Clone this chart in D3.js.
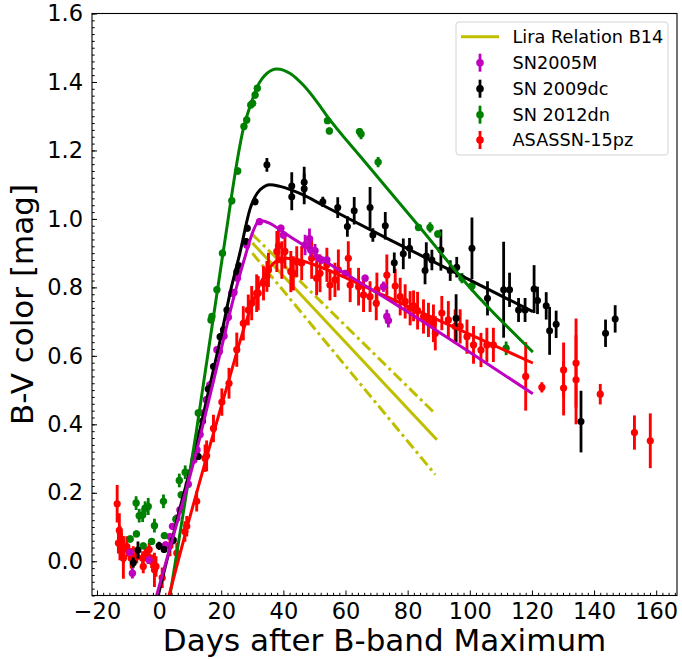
<!DOCTYPE html>
<html><head><meta charset="utf-8">
<script src="https://cdn.jsdelivr.net/npm/d3@7"></script>
<style>
html,body{margin:0;padding:0;background:#fff;}
svg{display:block;font-family:"DejaVu Sans",sans-serif;}
</style></head>
<body>
<svg id="chart" width="682" height="659"></svg>
<script>
// ---------- DATA ----------
const xTicks = [-20, 0, 20, 40, 60, 80, 100, 120, 140, 160];
const yTicks = [0.0, 0.2, 0.4, 0.6, 0.8, 1.0, 1.2, 1.4, 1.6];
const legendLabels = ["Lira Relation B14", "SN2005M", "SN 2009dc", "SN 2012dn", "ASASSN-15pz"];

// SN2005M : [day, B-V, err]
const sn2005M = [
 [-9.4,0.026,0.01],[-8.6,-0.035,0.015],[-3.2,0.004,0.01],[2.1,0.048,0.01],[3.5,0.072,0.01],
 [4.3,0.102,0.01],[5.7,0.126,0.01],[6.7,0.15,0.01],[9.4,0.225,0.01],[11.2,0.296,0.01],
 [12.2,0.325,0.01],[13.2,0.37,0.01],[14.2,0.433,0.01],[15.2,0.472,0.01],[16.3,0.515,0.01],
 [18.6,0.618,0.01],[19.4,0.613,0.01],[20.9,0.658,0.01],[22.3,0.713,0.01],[23.4,0.783,0.01],
 [24.1,0.785,0.01],[25.2,0.827,0.01],[28.2,0.924,0.01],[32.3,0.992,0.01],[39.2,0.973,0.01],
 [40.0,0.953,0.01],[47.0,0.924,0.03],[48.4,0.942,0.03],[48.8,0.909,0.02],[50.2,0.907,0.02],
 [51.3,0.885,0.01],[52.4,0.88,0.01],[54.0,0.88,0.01],[59.9,0.841,0.01],[66.3,0.827,0.01],
 [72.2,0.802,0.015],[73.3,0.715,0.02],[73.8,0.703,0.02]
];
// SN 2009dc
const sn2009dc = [
 [-8.3,-0.004,0.015],[-6.8,0.033,0.025],[0.0,0.045,0.012],[1.6,0.034,0.01],[4.6,0.062,0.012],
 [12.6,0.306,0.01],[14.0,0.41,0.01],[15.8,0.503,0.01],[17.5,0.569,0.01],[19.6,0.656,0.01],
 [20.7,0.676,0.01],[21.8,0.734,0.01],[25.0,0.846,0.01],[25.7,0.863,0.01],[28.0,0.934,0.01],
 [28.4,0.973,0.01],[30.9,1.05,0.01],[34.7,1.158,0.02],[42.7,1.096,0.04],[42.7,1.065,0.04],
 [46.7,1.107,0.045],[46.7,1.088,0.045],[52.7,1.05,0.015],[57.5,1.033,0.03],[60.6,0.978,0.03],
 [62.8,1.024,0.04],[67.9,1.033,0.06],[68.8,0.953,0.02],[72.8,0.98,0.04],[75.7,0.872,0.03],
 [78.6,0.898,0.045],[80.6,0.914,0.03],[85.6,0.849,0.04],[86.0,0.892,0.04],[87.8,0.88,0.03],
 [90.7,0.909,0.06],[93.7,0.849,0.03],[95.8,0.859,0.03],[95.6,0.71,0.07],[100.7,0.914,0.09],
 [105.7,0.768,0.05],[110.9,0.793,0.14],[112.8,0.793,0.05],[115.7,0.734,0.035],[117.8,0.734,0.035],
 [120.7,0.795,0.07],[121.8,0.762,0.04],[124.6,0.746,0.04],[125.7,0.673,0.07],[127.8,0.692,0.04],
 [135.8,0.408,0.09],[143.7,0.666,0.04],[146.8,0.708,0.04]
];
// SN 2012dn
const sn2012dn = [
 [-9.3,0.065,0.01],[-7.3,0.08,0.01],[-7.4,0.17,0.02],[-6.4,0.133,0.02],[-5.3,0.135,0.02],
 [-4.5,0.155,0.02],[-3.5,0.16,0.025],[-5.1,0.045,0.01],[-2.4,0.058,0.01],[-1.5,0.104,0.02],
 [1.4,0.175,0.02],[1.7,0.075,0.01],[5.4,0.123,0.01],[6.5,0.236,0.02],[7.1,0.194,0.01],
 [8.4,0.26,0.02],[12.6,0.433,0.01],[16.7,0.705,0.01],[17.0,0.715,0.01],[18.6,0.793,0.01],
 [20.4,0.9,0.01],[23.4,1.053,0.01],[25.3,1.14,0.01],[27.3,1.27,0.01],[28.2,1.289,0.01],
 [29.5,1.333,0.01],[30.1,1.338,0.01],[30.9,1.362,0.01],[31.6,1.382,0.01],[54.2,1.287,0.01],
 [54.8,1.257,0.01],[64.5,1.255,0.01],[65.0,1.248,0.015],[70.5,1.166,0.015],[83.5,0.975,0.01],
 [87.2,0.975,0.015],[89.7,0.956,0.01],[97.5,0.827,0.015],[100.7,0.804,0.015],[111.7,0.622,0.02]
];
// ASASSN-15pz
const asassn15pz = [
 [-13.5,0.168,0.055],[-12.8,0.09,0.05],[-12.6,0.053,0.05],[-12.1,0.045,0.04],[-11.5,0.034,0.04],
 [-11.5,0.009,0.06],[-13.1,0.053,0.03],[-10.4,0.043,0.03],[-9.0,0.009,0.03],[-8.3,0.014,0.03],
 [-7.2,0.014,0.02],[-5.3,0.009,0.02],[-5.1,-0.015,0.02],[-4.5,0.019,0.02],[-3.5,0.012,0.02],
 [-3.2,0.034,0.02],[-2.4,0.0,0.02],[-1.5,-0.025,0.05],[-1.0,-0.015,0.03],[1.0,-0.048,0.03],
 [3.5,0.045,0.03],[5.7,0.024,0.03],[8.3,0.087,0.03],[8.9,0.102,0.03],[12.1,0.175,0.03],
 [14.8,0.301,0.04],[15.3,0.308,0.045],[17.5,0.388,0.04],[20.2,0.465,0.04],[22.5,0.52,0.045],
 [25.0,0.618,0.05],[27.1,0.695,0.05],[28.7,0.734,0.045],[29.8,0.754,0.05],[31.4,0.783,0.055],
 [31.9,0.783,0.05],[33.6,0.812,0.05],[34.7,0.832,0.045],[35.2,0.851,0.05],[37.9,0.905,0.06],
 [38.4,0.921,0.05],[39.5,0.88,0.055],[40.5,0.905,0.05],[42.4,0.846,0.06],[43.2,0.841,0.05],
 [44.3,0.875,0.045],[45.9,0.871,0.05],[49.1,0.885,0.06],[50.7,0.827,0.05],[51.8,0.841,0.055],
 [54.0,0.866,0.05],[55.0,0.807,0.045],[56.6,0.822,0.05],[57.7,0.851,0.06],[60.9,0.885,0.05],
 [61.5,0.807,0.05],[64.2,0.802,0.055],[65.8,0.778,0.05],[67.9,0.773,0.045],[69.9,0.754,0.05],
 [70.1,0.793,0.05],[73.3,0.836,0.06],[76.0,0.804,0.05],[77.6,0.773,0.055],[79.2,0.759,0.05],
 [80.8,0.739,0.05],[81.9,0.746,0.045],[83.2,0.732,0.055],[85.1,0.715,0.05],[86.7,0.705,0.05],
 [88.3,0.695,0.055],[88.9,0.666,0.05],[91.0,0.725,0.05],[93.1,0.705,0.055],[95.3,0.686,0.05],
 [96.9,0.686,0.05],[99.1,0.656,0.05],[101.2,0.632,0.055],[103.6,0.617,0.05],[105.5,0.632,0.05],
 [107.6,0.632,0.05],[118.0,0.54,0.1],[123.2,0.508,0.015],[130.2,0.559,0.08],[130.2,0.506,0.08],
 [134.2,0.579,0.13],[134.2,0.53,0.13],[142.0,0.488,0.03],[153.0,0.376,0.05],[158.1,0.352,0.08]
];

// Fitted curves (knots)
const fit2005M = [[-0.8,-0.1],[6,0.12],[12,0.32],[16,0.47],[20,0.62],[24,0.77],[28,0.9],[30.2,0.963],
 [32.3,0.995],[35.7,0.987],[38.9,0.968],[42.2,0.948],[46.4,0.924],[50.7,0.895],[56.1,0.861],
 [61.5,0.832],[66.9,0.802],[72.2,0.773],[90,0.67],[120.3,0.489]];
const fit2009dc = [[-0.3,-0.1],[6,0.13],[12,0.34],[16,0.5],[20,0.66],[23,0.79],[26,0.9],[29.3,1.03],
 [32.5,1.085],[35.7,1.1],[38.9,1.095],[46.4,1.07],[52.7,1.04],[74.3,0.939],[120.3,0.729]];
const fit2012dn = [[3.5,-0.1],[12,0.38],[20.4,0.89],[27.3,1.27],[29.5,1.335],[31.6,1.386],[34.7,1.425],
 [37.9,1.438],[42.2,1.425],[46.4,1.391],[50.8,1.342],[54.2,1.299],[65,1.18],[83.5,0.98],[100,0.8],[120.3,0.611]];
const fit15pz = [[3.2,-0.1],[9,0.1],[15,0.295],[22,0.515],[28,0.7],[32,0.8],[35,0.85],[38,0.878],
 [41,0.885],[45,0.88],[50,0.866],[61.5,0.822],[72,0.778],[120.3,0.579]];

// Lira relation lines
const liraMid = [[30,0.93],[89.4,0.355]];
const liraUpper = [[30,0.955],[88.2,0.437]];
const liraLower = [[30,0.90],[88.9,0.253]];

// ---------- DRAW ----------
const svg = d3.select("#chart");
const L = 92, R = 677, T = 13.5, B = 595.5;
const x = d3.scaleLinear().domain([-21.6, 166.7]).range([L, R]);
const y = d3.scaleLinear().domain([-0.1, 1.6]).range([B, T]);

const COL = {m:"#bf00bf", k:"#000000", g:"#008000", r:"#ff0000", y:"#bfbf00"};
const FONT = "DejaVu Sans";

svg.append("defs").append("clipPath").attr("id","clip")
  .append("rect").attr("x",L).attr("y",T).attr("width",R-L).attr("height",B-T);
const plot = svg.append("g").attr("clip-path","url(#clip)");

const line = d3.line().x(d=>x(d[0])).y(d=>y(d[1]));
const smooth = d3.line().x(d=>x(d[0])).y(d=>y(d[1])).curve(d3.curveMonotoneX);

// Lira lines
plot.append("path").datum(liraMid).attr("d",line).attr("fill","none")
  .attr("stroke",COL.y).attr("stroke-width",3);
[liraUpper, liraLower].forEach(dd=>{
  plot.append("path").datum(dd).attr("d",line).attr("fill","none")
    .attr("stroke",COL.y).attr("stroke-width",3).attr("stroke-dasharray","11,4,3,4");
});

function errSeries(data, color, r, w){
  const g = plot.append("g");
  g.selectAll("line").data(data).join("line")
    .attr("x1",d=>x(d[0])).attr("x2",d=>x(d[0]))
    .attr("y1",d=>y(d[1]-d[2])).attr("y2",d=>y(d[1]+d[2]))
    .attr("stroke",color).attr("stroke-width",w);
  g.selectAll("circle").data(data).join("circle")
    .attr("cx",d=>x(d[0])).attr("cy",d=>y(d[1])).attr("r",r).attr("fill",color);
}
errSeries(asassn15pz, COL.r, 3.6, 2.9);
errSeries(sn2005M, COL.m, 3.7, 2.8);
errSeries(sn2009dc, COL.k, 3.5, 2.8);
errSeries(sn2012dn, COL.g, 3.7, 2.8);

[[fit2009dc,COL.k],[fit2012dn,COL.g],[fit15pz,COL.r],[fit2005M,COL.m]].forEach(([dd,c])=>{
  plot.append("path").datum(dd).attr("d",smooth).attr("fill","none")
    .attr("stroke",c).attr("stroke-width",3);
});

// Axes
const minorX = d3.range(-20, 167, 2);
const minorY = d3.range(-0.1, 1.6001, 0.02);

const xMaj = svg.append("g").attr("transform",`translate(0,${B})`)
  .call(d3.axisBottom(x).tickValues(xTicks).tickSize(-5).tickPadding(8).tickFormat(d3.format("d")));
const xMin = svg.append("g").attr("transform",`translate(0,${B})`)
  .call(d3.axisBottom(x).tickValues(minorX.filter(v=>!xTicks.includes(v))).tickSize(-2.7).tickFormat(""));
const yMaj = svg.append("g").attr("transform",`translate(${L},0)`)
  .call(d3.axisLeft(y).tickValues(yTicks).tickSize(-5).tickPadding(9).tickFormat(d3.format(".1f")));
const yMin = svg.append("g").attr("transform",`translate(${L},0)`)
  .call(d3.axisLeft(y).tickValues(minorY).tickSize(-2.7).tickFormat(""));
[xMaj,xMin,yMaj,yMin].forEach(g=>{
  g.select(".domain").remove();
  g.selectAll(".tick line").attr("stroke","#000").attr("stroke-width",1);
  g.selectAll("text").attr("font-family",FONT).attr("font-size",22.5).attr("fill","#000");
});

svg.append("rect").attr("x",L).attr("y",T).attr("width",R-L).attr("height",B-T)
  .attr("fill","none").attr("stroke","#000").attr("stroke-width",1.1);

// Axis labels
svg.append("text").attr("x",(L+R)/2).attr("y",651).attr("text-anchor","middle")
  .attr("font-family",FONT).attr("font-size",31).text("Days after B-band Maximum");
svg.append("text").attr("transform",`translate(33,${(T+B)/2}) rotate(-90)`).attr("text-anchor","middle")
  .attr("font-family",FONT).attr("font-size",31).text("B-V color [mag]");

// Legend
const lg = svg.append("g");
lg.append("rect").attr("x",456).attr("y",22).attr("width",212).attr("height",133).attr("rx",3)
  .attr("fill","#fff").attr("fill-opacity",0.85).attr("stroke","#d4d4d4").attr("stroke-width",1);
const legY = [36.7, 62.7, 88.7, 114.7, 140];
const legCols = [COL.y, COL.m, COL.k, COL.g, COL.r];
legendLabels.forEach((lab,i)=>{
  const yy = legY[i];
  if(i===0){
    lg.append("line").attr("x1",461).attr("x2",499).attr("y1",yy).attr("y2",yy)
      .attr("stroke",legCols[i]).attr("stroke-width",3);
  } else {
    lg.append("line").attr("x1",480).attr("x2",480).attr("y1",yy-9).attr("y2",yy+9)
      .attr("stroke",legCols[i]).attr("stroke-width",2.8);
    lg.append("circle").attr("cx",480).attr("cy",yy).attr("r",3.8).attr("fill",legCols[i]);
  }
  lg.append("text").attr("x",512.5).attr("y",yy).attr("dy","0.36em")
    .attr("font-family",FONT).attr("font-size",17.7).text(lab);
});
</script>
</body></html>
